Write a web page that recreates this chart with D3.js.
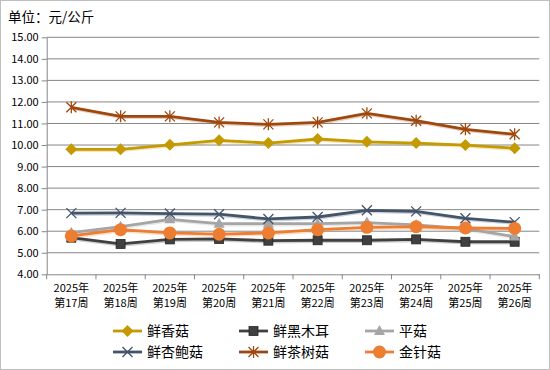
<!DOCTYPE html>
<html><head><meta charset="utf-8">
<script src="https://cdn.jsdelivr.net/npm/d3@7/dist/d3.min.js"></script>
<style>body{margin:0;background:#fff}svg{display:block}text{font-family:"Noto Sans CJK SC","Noto Sans",sans-serif}</style>
</head><body><svg id="c" width="550" height="370"></svg>
<script>
const categories = ["第17周","第18周","第19周","第20周","第21周","第22周","第23周","第24周","第25周","第26周"];
const yearLabel = "2025年";
const seriesNames = ["鲜香菇","鲜黑木耳","平菇","鲜杏鲍菇","鲜茶树菇","金针菇"];
const xianxianggu = [9.80,9.80,10.01,10.22,10.09,10.28,10.15,10.09,10.00,9.85];
const heimuer = [5.70,5.41,5.62,5.64,5.56,5.58,5.58,5.62,5.51,5.51];
const pinggu = [5.93,6.21,6.55,6.35,6.35,6.35,6.40,6.29,6.12,5.75];
const xingbaogu = [6.84,6.85,6.82,6.79,6.57,6.66,6.97,6.92,6.60,6.42];
const chashugu = [11.75,11.33,11.33,11.05,10.96,11.05,11.47,11.13,10.73,10.50];
const jinzhengu = [5.78,6.07,5.92,5.86,5.92,6.07,6.18,6.21,6.15,6.13];
const yTicks = [4,5,6,7,8,9,10,11,12,13,14,15];
const seriesValues = [xianxianggu,heimuer,pinggu,xingbaogu,chashugu,jinzhengu];
const colors = ["#C49A00","#404040","#A5A5A5","#44546A","#9E480E","#ED7D31"];
const markers = ["diamond","square","triangle","x","star","circle"];

const svg = d3.select("#c");
svg.append("rect").attr("x",0.5).attr("y",0.5).attr("width",549).attr("height",369)
  .attr("fill","#fff").attr("stroke","#BFBFBF");

svg.append("text").attr("x",8).attr("y",22).attr("font-size",13.5).attr("fill","#000").text("单位：元/公斤");

const L=46.7,R=539.3,T=37.3,B=274.3;
const x = d3.scaleBand().domain(categories).range([L,R]);
const y = d3.scaleLinear().domain([4,15]).range([B,T]);

// gridlines
svg.append("g").selectAll("line").data(yTicks.filter(v=>v>4)).join("line")
  .attr("x1",L).attr("x2",R).attr("y1",d=>y(d)).attr("y2",d=>y(d))
  .attr("stroke","#868686").attr("stroke-width",1);

// y axis
const ya = svg.append("g").attr("transform",`translate(${L},0)`)
  .call(d3.axisLeft(y).tickValues(yTicks).tickFormat(d3.format(".2f")).tickSize(5).tickSizeOuter(0));
ya.select(".domain").attr("stroke","#868686");
ya.selectAll(".tick line").attr("stroke","#868686");
ya.selectAll("text").attr("font-size",11).attr("fill","#000").attr("x",-8)
  .style("font-family","'Noto Sans CJK SC',sans-serif");

// x axis
const xa = svg.append("g").attr("transform",`translate(0,${B})`)
  .call(d3.axisBottom(x).tickSize(0).tickFormat(""));
xa.select(".domain").attr("stroke","#868686");
const bounds = categories.map(c=>x(c)).concat([R]);
xa.selectAll(".bt").data(bounds).join("line").attr("class","bt")
  .attr("x1",d=>d).attr("x2",d=>d).attr("y1",0).attr("y2",5).attr("stroke","#868686");
categories.forEach(c=>{
  const cx = x(c)+x.bandwidth()/2;
  const t = svg.append("text").attr("x",cx).attr("text-anchor","middle").attr("font-size",11).attr("fill","#000");
  t.append("tspan").attr("x",cx).attr("y",292).text(yearLabel);
  t.append("tspan").attr("x",cx).attr("y",307).text(c);
});

function drawMarker(g, type, cx, cy, color){
  if(type==="diamond"){
    g.append("path").attr("d",`M${cx},${cy-6}L${cx+6},${cy}L${cx},${cy+6}L${cx-6},${cy}Z`).attr("fill",color);
  } else if(type==="square"){
    g.append("rect").attr("x",cx-4.5).attr("y",cy-4.5).attr("width",9).attr("height",9).attr("fill",color).attr("stroke","#262626").attr("stroke-width",0.8);
  } else if(type==="triangle"){
    g.append("path").attr("d",`M${cx},${cy-6}L${cx+5.5},${cy+4}L${cx-5.5},${cy+4}Z`).attr("fill",color);
  } else if(type==="x"){
    g.append("path").attr("d",`M${cx-5},${cy-5}L${cx+5},${cy+5}M${cx-5},${cy+5}L${cx+5},${cy-5}`).attr("stroke",color).attr("stroke-width",1.3).attr("fill","none");
  } else if(type==="star"){
    g.append("path").attr("d",`M${cx-5},${cy-5}L${cx+5},${cy+5}M${cx-5},${cy+5}L${cx+5},${cy-5}M${cx},${cy-6}L${cx},${cy+6}`).attr("stroke",color).attr("stroke-width",1.3).attr("fill","none");
  } else if(type==="circle"){
    g.append("circle").attr("cx",cx).attr("cy",cy).attr("r",6.5).attr("fill",color);
  }
}

const line = d3.line().x((d,i)=>x(categories[i])+x.bandwidth()/2).y(d=>y(d));
seriesValues.forEach((vals,si)=>{
  const g = svg.append("g");
  g.append("path").datum(vals).attr("d",line).attr("fill","none")
    .attr("stroke",colors[si]).attr("stroke-width",3.5).attr("opacity",0.25).attr("transform","translate(0.8,1)");
  g.append("path").datum(vals).attr("d",line).attr("fill","none")
    .attr("stroke",colors[si]).attr("stroke-width",2.8).attr("stroke-linejoin","round");
  vals.forEach((v,i)=>drawMarker(g,markers[si],x(categories[i])+x.bandwidth()/2,y(v),colors[si]));
});

// legend
const colX=[113,239,365], rowY=[331,352];
seriesNames.forEach((n,i)=>{
  const lx = colX[i%3], ly = rowY[Math.floor(i/3)];
  const g = svg.append("g");
  g.append("line").attr("x1",lx).attr("x2",lx+29).attr("y1",ly).attr("y2",ly).attr("stroke",colors[i]).attr("stroke-width",2.8);
  drawMarker(g,markers[i],lx+14.5,ly,colors[i]);
  g.append("text").attr("x",lx+34).attr("y",ly+5).attr("font-size",14).attr("fill","#000").text(n);
});
</script></body></html>
